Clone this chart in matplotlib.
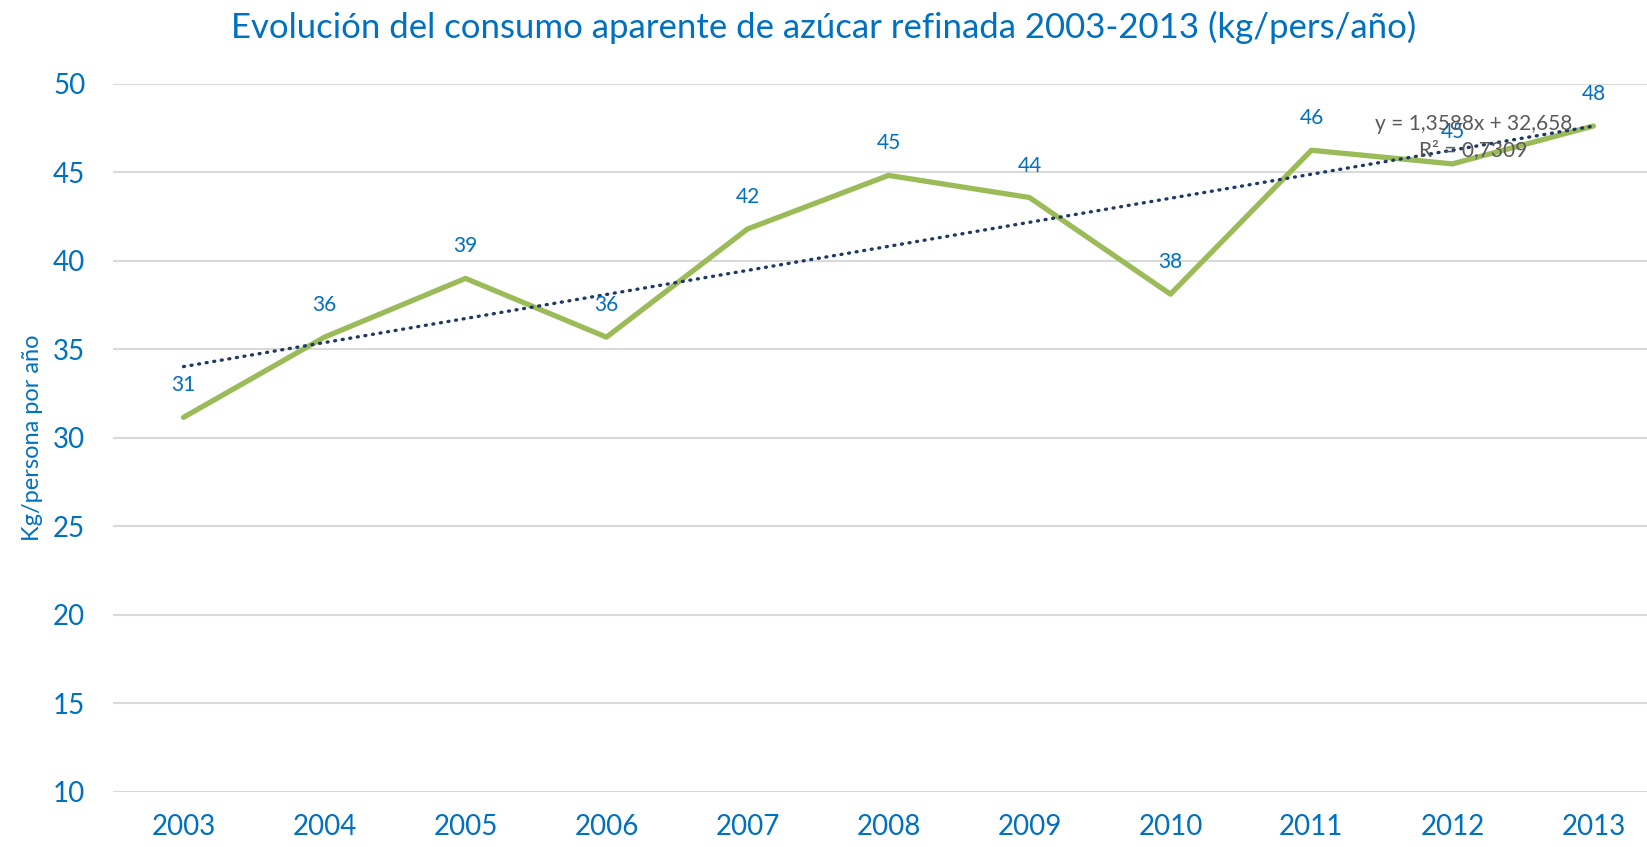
import matplotlib
matplotlib.use("Agg")
import matplotlib.pyplot as plt
import numpy as np

years = ["2003", "2004", "2005", "2006", "2007", "2008", "2009", "2010", "2011", "2012", "2013"]
consumo = [31.15, 35.68, 39.0, 35.68, 41.79, 44.82, 43.57, 38.11, 46.24, 45.47, 47.61]
etiquetas = ["31", "36", "39", "36", "42", "45", "44", "38", "46", "45", "48"]
trend_slope = 1.3588
trend_intercept = 32.658
trend_text = "y = 1,3588x + 32,658\nR² = 0,7309"
yticks = [10, 15, 20, 25, 30, 35, 40, 45, 50]

BLUE = "#0070C0"
plt.rcParams['font.family'] = ['Lato', 'DejaVu Sans']

fig = plt.figure(figsize=(16.47, 8.47), dpi=100)
ax = fig.add_axes([113/1647, 1-791.7/847, 1-113/1647, (791.7-83.7)/847])

x = np.arange(len(years))
ax.plot(x, consumo, color="#9BBB59", lw=3.8, solid_capstyle="round", zorder=3)
xt = x + 1
trend = trend_slope * xt + trend_intercept
ax.plot(x, trend, color="#1F3864", lw=2.4, linestyle=(0, (0.3, 2.0)),
        dash_capstyle="round", zorder=4)

for xi, yi, lab in zip(x, consumo, etiquetas):
    ax.annotate(lab, (xi, yi), xytext=(0, 23), textcoords="offset points",
                ha="center", va="center", fontsize=15, color=BLUE, zorder=5)

ax.text(9.15, 47.0, trend_text, ha="center", va="center", fontsize=15,
        color="#595959", linespacing=1.4, zorder=6)

ax.set_xlim(-0.5, 10.38)
ax.set_ylim(10, 50)
ax.set_yticks(yticks)
ax.set_xticks(x)
ax.set_xticklabels(years)
ax.tick_params(axis="both", length=0, labelsize=20, labelcolor=BLUE)
ax.tick_params(axis="y", pad=20)
ax.tick_params(axis="x", pad=16)
ax.grid(axis="y", color="#D9D9D9", lw=1.5)
ax.set_axisbelow(True)
for s in ax.spines.values():
    s.set_visible(False)

ax.set_ylabel("Kg/persona por año", fontsize=17, color=BLUE, labelpad=7)
fig.text(0.5, 1-27/847, "Evolución del consumo aparente de azúcar refinada 2003-2013 (kg/pers/año)",
         ha="center", va="center", fontsize=25, color=BLUE)

fig.savefig("out.png", dpi=100)
